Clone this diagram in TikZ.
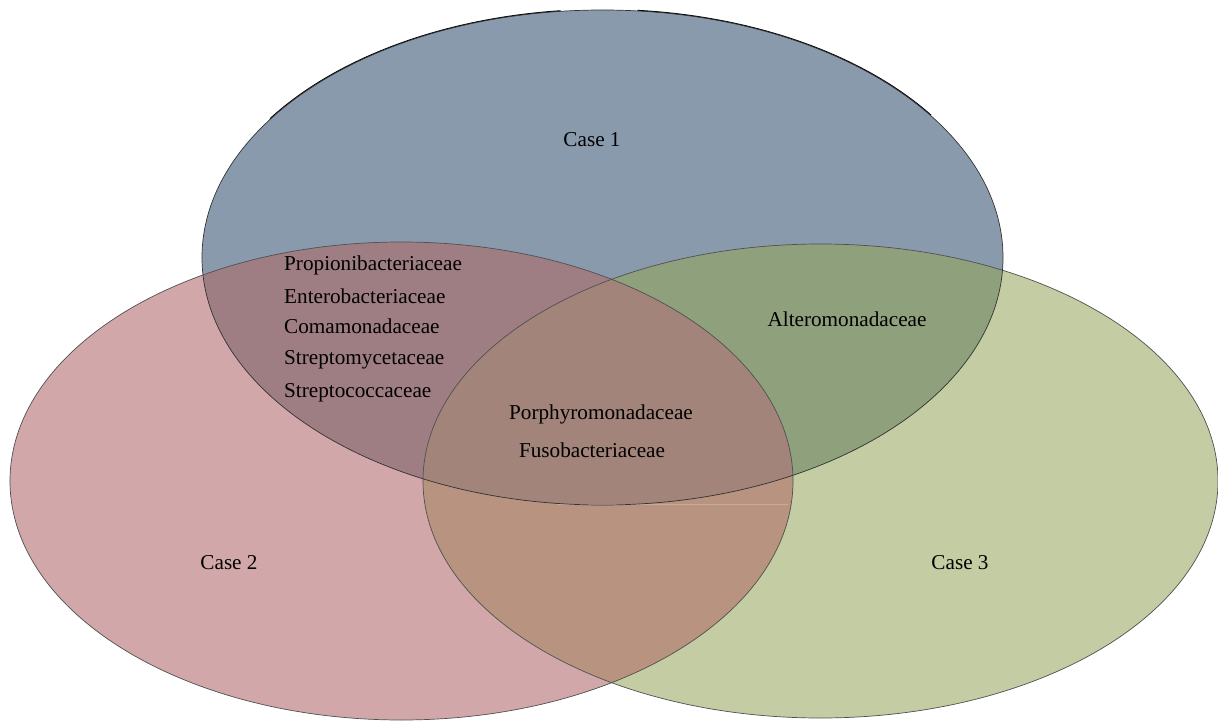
\documentclass[tikz,border=0pt]{standalone}
\usepackage{fontspec}
\setmainfont{Liberation Serif}
\definecolor{cblue}{HTML}{8A9AAD}
\definecolor{cred}{HTML}{D1A7A9}
\definecolor{cgreen}{HTML}{C3CCA2}
\definecolor{cbr}{HTML}{9E7E83}
\definecolor{cbg}{HTML}{8FA07D}
\definecolor{crg}{HTML}{B8937F}
\definecolor{cbrg}{HTML}{A2847A}
\definecolor{cedge}{HTML}{505050}
\definecolor{cfaint}{HTML}{CBAA9A}
\begin{document}
\begin{tikzpicture}[x=1pt,y=-1pt,
  lbl/.style={font=\fontsize{21.2}{25}\selectfont, inner sep=0pt, text=black},
  edge/.style={draw=cedge, line width=0.7pt},
  topedge/.style={draw=black, line width=2.2pt}]
\useasboundingbox (0,0) rectangle (1218,722);
\coordinate (B) at (602.5,257.5);
\coordinate (R) at (401.5,481);
\coordinate (G) at (820.5,481);
\def\Bpath{(B) ellipse [x radius=400.5, y radius=247.5]}
\def\Rpath{(R) ellipse [x radius=391.5, y radius=239]}
\def\Gpath{(G) ellipse [x radius=397.5, y radius=237]}
% thick top edge (drawn under the fill so it thickens outward)
\draw[topedge] (B) ++(-146:400.5 and 247.5) arc[start angle=-146, end angle=-96, x radius=400.5, y radius=247.5];
\draw[topedge] (B) ++(-85:400.5 and 247.5) arc[start angle=-85, end angle=-35, x radius=400.5, y radius=247.5];
% fills
\fill[cred] \Rpath;
\fill[cgreen] \Gpath;
\begin{scope}\clip \Rpath; \fill[crg] \Gpath;\end{scope}
\fill[cblue] \Bpath;
\begin{scope}\clip \Bpath; \fill[cbr] \Rpath;\end{scope}
\begin{scope}\clip \Bpath; \fill[cbg] \Gpath;\end{scope}
\begin{scope}\clip \Bpath; \clip \Rpath; \fill[cbrg] \Gpath;\end{scope}
% faint artifact line
\coordinate (fa) at (557,504);
\coordinate (fb) at (788,504);
\draw[draw=cfaint, line width=0.6pt] (fa) -- (fb);
% outlines
\draw[edge] \Rpath;
\draw[edge] \Gpath;
\draw[edge, draw=black!80] \Bpath;
% labels
\node[lbl, anchor=base] (c1) at (592,147) {Case 1};
\node[lbl, anchor=base] (c2) at (229,569) {Case 2};
\node[lbl, anchor=base] (c3) at (960,569) {Case 3};
\node[lbl, anchor=base west] (t1) at (284,270) {Propionibacteriaceae};
\node[lbl, anchor=base west] (t2) at (284,303) {Enterobacteriaceae};
\node[lbl, anchor=base west] (t3) at (284,333) {Comamonadaceae};
\node[lbl, anchor=base west] (t4) at (284,364) {Streptomycetaceae};
\node[lbl, anchor=base west] (t5) at (284,397) {Streptococcaceae};
\node[lbl, anchor=base] (t6) at (601,419) {Porphyromonadaceae};
\node[lbl, anchor=base] (t7) at (592,457) {Fusobacteriaceae};
\node[lbl, anchor=base] (t8) at (847,326) {Alteromonadaceae};
\end{tikzpicture}
\end{document}
